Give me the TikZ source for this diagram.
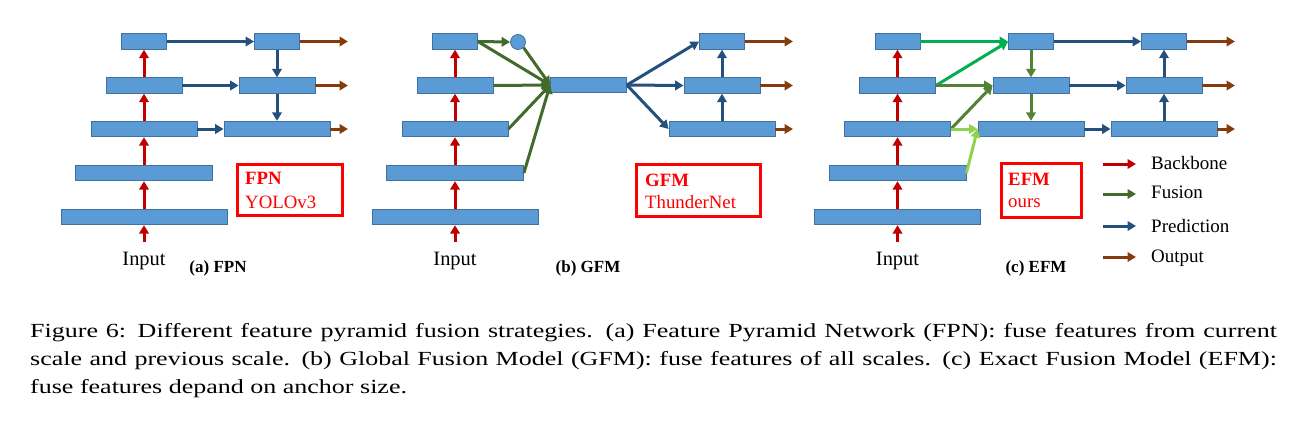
\documentclass[tikz,border=0pt]{standalone}
\usepackage{fontspec}
\setmainfont{Liberation Serif}
\usepackage{graphicx}
\usetikzlibrary{arrows.meta}

\definecolor{mapFill}{HTML}{5B9BD5}
\definecolor{mapLine}{HTML}{41719C}
\definecolor{bbRed}{HTML}{C00000}
\definecolor{predBlue}{HTML}{24507E}
\definecolor{outBrown}{HTML}{843C0C}
\definecolor{fuseGreen}{HTML}{426B2B}
\definecolor{fuseMid}{HTML}{548235}
\definecolor{fuseBright}{HTML}{00B050}
\definecolor{fuseLight}{HTML}{92D050}

\begin{document}
\begin{tikzpicture}[x=1pt, y=-1pt,
  fmap/.style={rectangle, draw=mapLine, fill=mapFill, line width=0.8pt, minimum height=15.5pt, inner sep=0pt},
  s1/.style={fmap, minimum width=45pt},
  s2/.style={fmap, minimum width=76pt},
  s3/.style={fmap, minimum width=106pt},
  s4/.style={fmap, minimum width=137pt},
  s5/.style={fmap, minimum width=166pt},
  pool/.style={circle, draw=mapLine, fill=mapFill, line width=0.8pt, minimum size=15pt, inner sep=0pt},
  e/.style={-{Triangle[length=8.5pt,width=9.5pt]}, line width=3pt},
  bbE/.style={e, bbRed},
  fuseE/.style={e, fuseGreen},
  midE/.style={e, fuseMid},
  brightE/.style={e, fuseBright},
  lightE/.style={e, fuseLight},
  predE/.style={e, predBlue},
  outE/.style={e, outBrown},
  tag/.style={draw=red, line width=2.6pt, inner sep=0pt},
  tagT/.style={anchor=base west, inner sep=0pt, text=red, font=\fontsize{18.8}{22}\selectfont},
  inT/.style={anchor=base, inner sep=0pt, font=\fontsize{20.4}{24}\selectfont},
  subT/.style={anchor=base, inner sep=0pt, font=\fontsize{17}{20}\selectfont\bfseries},
  lgT/.style={anchor=base west, inner sep=0pt, font=\fontsize{19}{22}\selectfont},
  capT/.style={anchor=base west, inner sep=0pt, font=\fontsize{20}{24}\selectfont}
]
\useasboundingbox (0,0) rectangle (1305,426);

% --- (a) FPN: backbone ---
\node[s1] (a1) at (144, 41.5) {};
\node[s2] (a2) at (144, 85.5) {};
\node[s3] (a3) at (144,129)   {};
\node[s4] (a4) at (144,173)   {};
\node[s5] (a5) at (144,217)   {};
\coordinate (inA) at (144,242);

% --- (a) FPN: pyramid ---
\node[s1] (pa1) at (277, 41.5) {};
\node[s2] (pa2) at (277, 85.5) {};
\node[s3] (pa3) at (277,129)   {};
\coordinate (oa1) at (348, 41.5);
\coordinate (oa2) at (348, 85.5);
\coordinate (oa3) at (348,129);

% backbone (red)
\draw[bbE] (inA) -- (a5.south);
\draw[bbE] (a5.north) -- (a4.south);
\draw[bbE] (a4.north) -- (a3.south);
\draw[bbE] (a3.north) -- (a2.south);
\draw[bbE] (a2.north) -- (a1.south);
% lateral and top-down (blue)
\draw[predE] (a1.east) -- (pa1.west);
\draw[predE] (a2.east) -- (pa2.west);
\draw[predE] (a3.east) -- (pa3.west);
\draw[predE] (pa1.south) -- (pa2.north);
\draw[predE] (pa2.south) -- (pa3.north);
% outputs (brown)
\draw[outE] (pa1.east) -- (oa1);
\draw[outE] (pa2.east) -- (oa2);
\draw[outE] (pa3.east) -- (oa3);

\node[tag, minimum width=105pt, minimum height=51pt] (tagA) at (290,190) {};
\node[tagT] (tagA1) at (245,184) {\bfseries FPN};
\node[tagT] (tagA2) at (245,208) {YOLOv3};
\node[inT]  (inTA)  at (144,265) {Input};
\node[subT] (subA)  at (218,272) {(a) FPN};

% --- (b) GFM: backbone ---
\node[s1] (b1) at (455, 41.5) {};
\node[s2] (b2) at (455, 85.5) {};
\node[s3] (b3) at (455,129)   {};
\node[s4] (b4) at (455,173)   {};
\node[s5] (b5) at (455,217)   {};
\coordinate (inB) at (455,242);
\node[pool] (poolB) at (518,42) {};
\node[s2] (glob) at (588.5,85) {};

% --- (b) GFM: pyramid ---
\node[s1] (pb1) at (722, 41.5) {};
\node[s2] (pb2) at (722, 85.5) {};
\node[s3] (pb3) at (722,129)   {};
\coordinate (ob1) at (793, 41.5);
\coordinate (ob2) at (793, 85.5);
\coordinate (ob3) at (793,129);

\draw[bbE] (inB) -- (b5.south);
\draw[bbE] (b5.north) -- (b4.south);
\draw[bbE] (b4.north) -- (b3.south);
\draw[bbE] (b3.north) -- (b2.south);
\draw[bbE] (b2.north) -- (b1.south);
% all scales into one map (green)
\draw[fuseE] (b1.east) -- (poolB.west);
\draw[fuseE] (b1.east) -- (glob.west);
\draw[fuseE] (poolB.south east) -- (glob.west);
\draw[fuseE] (b2.east) -- (glob.west);
\draw[fuseE] (b3.east) -- (glob.west);
\draw[fuseE] (b4.east) -- (glob.west);
% redistribute (blue)
\draw[predE] (glob.east) -- (pb1.west);
\draw[predE] (glob.east) -- (pb2.west);
\draw[predE] (glob.east) -- (pb3.west);
\draw[predE] (pb3.north) -- (pb2.south);
\draw[predE] (pb2.north) -- (pb1.south);
\draw[outE] (pb1.east) -- (ob1);
\draw[outE] (pb2.east) -- (ob2);
\draw[outE] (pb3.east) -- (ob3);

\node[tag, minimum width=124pt, minimum height=52pt] (tagB) at (698.5,190.5) {};
\node[tagT] (tagB1) at (645,186) {\bfseries GFM};
\node[tagT] (tagB2) at (645,208) {ThunderNet};
\node[inT]  (inTB)  at (455,265) {Input};
\node[subT] (subB)  at (588,272) {(b) GFM};

% --- (c) EFM: backbone ---
\node[s1] (c1) at (897.5, 41.5) {};
\node[s2] (c2) at (897.5, 85.5) {};
\node[s3] (c3) at (897.5,129)   {};
\node[s4] (c4) at (897.5,173)   {};
\node[s5] (c5) at (897.5,217)   {};
\coordinate (inC) at (897.5,242);

% --- (c) EFM: fused maps and pyramid ---
\node[s1] (m1) at (1031, 41.5) {};
\node[s2] (m2) at (1031, 85.5) {};
\node[s3] (m3) at (1031,129)   {};
\node[s1] (pc1) at (1164, 41.5) {};
\node[s2] (pc2) at (1164, 85.5) {};
\node[s3] (pc3) at (1164,129)   {};
\coordinate (oc1) at (1235, 41.5);
\coordinate (oc2) at (1235, 85.5);
\coordinate (oc3) at (1235,129);

\draw[bbE] (inC) -- (c5.south);
\draw[bbE] (c5.north) -- (c4.south);
\draw[bbE] (c4.north) -- (c3.south);
\draw[bbE] (c3.north) -- (c2.south);
\draw[bbE] (c2.north) -- (c1.south);
% two neighbouring scales per fused map
\draw[brightE] (c1.east) -- (m1.west);
\draw[brightE] (c2.east) -- (m1.west);
\draw[midE]    (c2.east) -- (m2.west);
\draw[midE]    (c3.east) -- (m2.west);
\draw[lightE]  (c3.east) -- (m3.west);
\draw[lightE]  (c4.east) -- (m3.west);
\draw[midE]    (m1.south) -- (m2.north);
\draw[midE]    (m2.south) -- (m3.north);
\draw[predE] (m1.east) -- (pc1.west);
\draw[predE] (m2.east) -- (pc2.west);
\draw[predE] (m3.east) -- (pc3.west);
\draw[predE] (pc3.north) -- (pc2.south);
\draw[predE] (pc2.north) -- (pc1.south);
\draw[outE] (pc1.east) -- (oc1);
\draw[outE] (pc2.east) -- (oc2);
\draw[outE] (pc3.east) -- (oc3);

\node[tag, minimum width=80pt, minimum height=54pt] (tagC) at (1041.5,190.5) {};
\node[tagT] (tagC1) at (1008,185) {\bfseries EFM};
\node[tagT] (tagC2) at (1008,207) {ours};
\node[inT]  (inTC)  at (897.5,265) {Input};
\node[subT] (subC)  at (1036,272) {(c) EFM};

% --- legend ---
\coordinate (lg1) at (1103,164); \coordinate (lg1e) at (1136,164);
\coordinate (lg2) at (1103,194); \coordinate (lg2e) at (1136,194);
\coordinate (lg3) at (1103,226); \coordinate (lg3e) at (1136,226);
\coordinate (lg4) at (1103,257); \coordinate (lg4e) at (1136,257);
\draw[bbE]   (lg1) -- (lg1e);
\draw[fuseE] (lg2) -- (lg2e);
\draw[predE] (lg3) -- (lg3e);
\draw[outE]  (lg4) -- (lg4e);
\node[lgT] (lgBb)   at (1151,169) {Backbone};
\node[lgT] (lgFu)   at (1151,198) {Fusion};
\node[lgT] (lgPr)   at (1151,232) {Prediction};
\node[lgT] (lgOut)  at (1151,262) {Output};

% --- caption ---
\node[capT] (cap1) at (30,337) {\scalebox{1.3}[1]{\makebox[959pt][s]{Figure 6: Different feature pyramid fusion strategies. (a) Feature Pyramid Network (FPN): fuse features from current}}};
\node[capT] (cap2) at (30,365) {\scalebox{1.3}[1]{\makebox[959pt][s]{scale and previous scale. (b) Global Fusion Model (GFM): fuse features of all scales. (c) Exact Fusion Model (EFM):}}};
\node[capT] (cap3) at (30,393) {\scalebox{1.3}[1]{fuse features depand on anchor size.}};

\end{tikzpicture}
\end{document}
